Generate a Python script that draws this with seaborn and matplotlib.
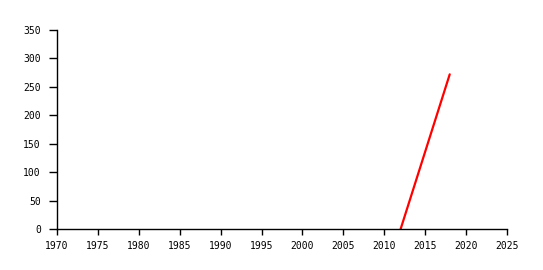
import matplotlib
matplotlib.use("Agg")
import matplotlib.pyplot as plt
import seaborn as sns
import pandas as pd

years = [2012, 2018]
values = [0, 272]
x_ticks = list(range(1970, 2026, 5))
y_ticks = list(range(0, 351, 50))

sns.set_style("ticks")
plt.rcParams['font.family'] = ['DejaVu Sans Mono']

df = pd.DataFrame({"year": years, "value": values})

fig = plt.figure(figsize=(5.43, 2.70), dpi=100)
ax = fig.add_axes([57/543, 1-229/270, (507-57)/543, (229-30)/270])
sns.lineplot(data=df, x="year", y="value", ax=ax, color="#ff0000", linewidth=1.6)
ax.set_xlim(1970, 2025)
ax.set_ylim(0, 350)
ax.set_xticks(x_ticks)
ax.set_yticks(y_ticks)
ax.set_xlabel("")
ax.set_ylabel("")
for s in ["top", "right"]:
    ax.spines[s].set_visible(False)
for s in ["left", "bottom"]:
    ax.spines[s].set_color("black")
    ax.spines[s].set_linewidth(1)
ax.tick_params(axis="both", width=1, color="black", labelsize=7, labelcolor="black")
ax.tick_params(axis="y", length=5.8, pad=5.8)
ax.tick_params(axis="x", length=4.3, pad=4.5)
fig.savefig("out.png", dpi=100, facecolor="white")
